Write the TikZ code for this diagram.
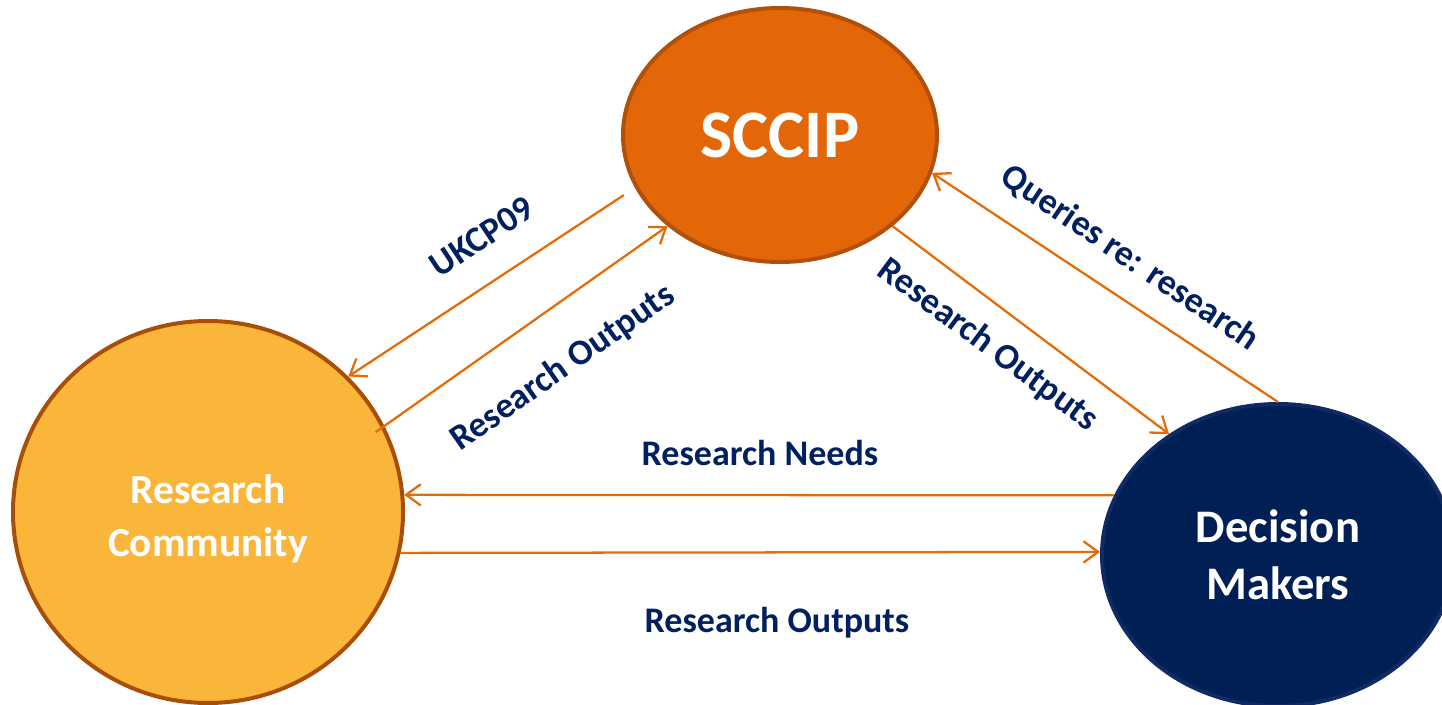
\documentclass[tikz,border=0pt]{standalone}
\usepackage{fontspec}
\setmainfont{Carlito}
\usetikzlibrary{shapes.geometric,arrows.meta}

\definecolor{sccipfill}{RGB}{227,102,8}
\definecolor{sccipline}{RGB}{176,80,10}
\definecolor{rcfill}{RGB}{249,182,59}
\definecolor{rcline}{RGB}{168,78,6}
\definecolor{dmfill}{RGB}{0,31,85}
\definecolor{dmline}{RGB}{16,42,100}
\definecolor{flowline}{RGB}{227,108,9}
\definecolor{labeltext}{RGB}{0,32,96}

\tikzset{
  party/.style={ellipse, inner sep=0pt, line width=3pt, text=white, align=center},
  flow/.style={draw=flowline, line width=1.7pt, -{Straight Barb[length=11pt,width=16pt,line width=1.7pt]}},
  flowlabel/.style={text=labeltext, inner sep=0.75pt, font=\bfseries\fontsize{27}{32}\selectfont},
}

\begin{document}
\begin{tikzpicture}[x=0.75pt,y=0.75pt,yscale=-1,xscale=1]
\useasboundingbox (0,0) rectangle (1442,705);
\clip (0,0) rectangle (1442,705);

%Shape: Ellipse [sccip]
\node [party, fill=sccipfill, draw=sccipline, minimum width=235.5pt, minimum height=190.5pt,
  font=\bfseries\fontsize{51}{60}\selectfont] (sccip) at (780,135) {SCCIP};
%Shape: Circle [rc]
\node [party, fill=rcfill, draw=rcline, minimum width=292.5pt, minimum height=286.5pt,
  font=\bfseries\fontsize{31}{40}\selectfont] (rc) at (208,512) {\rule{0pt}{32pt}Research\\Community};
%Shape: Ellipse [dm]
\node [party, fill=dmfill, draw=dmline, minimum width=264pt, minimum height=226.5pt,
  font=\bfseries\fontsize{35}{43}\selectfont] (dm) at (1278,555) {Decision\\Makers};

%Straight Lines
\draw [flow, shorten <=10pt] (sccip.200) -- (rc.44);
\draw [flow, shorten <=-8pt] (rc.26) -- (sccip.219);
\draw [flow] (dm.90) -- (sccip.346);
\draw [flow] (sccip.321) -- (dm.132);
\draw [flow] (dm.160) -- (rc.5);
\draw [flow] (rc.348) -- (dm.179);

% Text Node
\node [flowlabel, rotate=33.6] (ukcp) at (482,237) {UKCP09};
% Text Node
\node [flowlabel, rotate=35] (outleft) at (563,368) {Research Outputs};
% Text Node
\node [flowlabel, rotate=-34] (queries) at (1130,258) {Queries re: research};
% Text Node
\node [flowlabel, rotate=-36.5] (outright) at (988,345) {Research Outputs};
% Text Node
\node [flowlabel] (needs) at (760,453) {Research Needs};
% Text Node
\node [flowlabel] (outbottom) at (777,623) {Research Outputs};
\end{tikzpicture}
\end{document}
